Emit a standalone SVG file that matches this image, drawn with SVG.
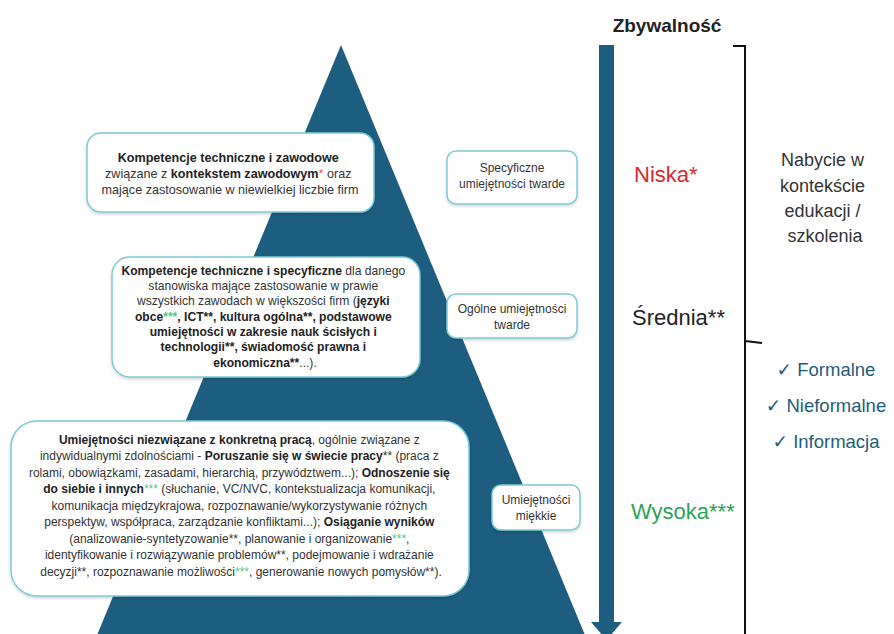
<svg xmlns="http://www.w3.org/2000/svg" width="894" height="634" viewBox="0 0 894 634">
<defs>
<filter id="sh" x="-10%" y="-10%" width="120%" height="130%">
<feDropShadow dx="0" dy="1.5" stdDeviation="1.5" flood-color="#000" flood-opacity="0.18"/>
</filter>
</defs>
<style>
text{font-family:"Liberation Sans","DejaVu Sans",sans-serif;fill:#333}
.box{fill:#fff;stroke:#7ecad6;stroke-width:1.5;filter:url(#sh)}
.b{font-weight:bold;fill:#222}
.g{fill:#4cc98a}
.r{fill:#e0575a}
.t{font-size:12px}
.t2{font-size:12.6px}
.t3{font-size:12.1px}
.lbl{font-size:12px;text-anchor:middle}
.big{font-size:22px}
.chk{font-size:18.5px;fill:#1f5c7a;text-anchor:middle}
</style>
<rect width="894" height="634" fill="#fff"/>

<g id="pyramid"><polygon points="341,45 587,640 95,640" fill="#1d5e80"/></g>

<g id="connectors">
<rect x="599" y="45" width="15" height="579" fill="#1d5e80"/>
<polygon points="591,622 622,622 606.5,640" fill="#1d5e80"/>
<path d="M733,46 H745 V640 M745,341 L762,343" fill="none" stroke="#111" stroke-width="2"/>
</g>

<g id="title"><text x="667" y="32" font-size="19" font-weight="bold" text-anchor="middle" style="fill:#222">Zbywalność</text></g>

<g id="box1">
<rect class="box" x="87" y="133" width="287" height="79" rx="14"/>
<text class="t2" text-anchor="middle">
<tspan x="230" y="162" class="b">Kompetencje techniczne i zawodowe</tspan>
<tspan x="230" y="178">związane z <tspan class="b">kontekstem zawodowym</tspan><tspan class="r">*</tspan> oraz</tspan>
<tspan x="230" y="194">mające zastosowanie w niewielkiej liczbie firm</tspan>
</text>
</g>

<g id="box2">
<rect class="box" x="112" y="257" width="308" height="120" rx="18"/>
<text class="t3" text-anchor="middle">
<tspan x="265" y="275"><tspan class="b">Kompetencje techniczne i specyficzne</tspan> dla danego</tspan>
<tspan x="265" y="290">stanowiska mające zastosowanie w prawie</tspan>
<tspan x="265" y="305">wszystkich zawodach w większości firm (<tspan class="b">języki</tspan></tspan>
<tspan x="265" y="321" class="b">obce<tspan class="g">***</tspan>, ICT**, kultura ogólna**, podstawowe</tspan>
<tspan x="265" y="336" class="b">umiejętności w zakresie nauk ścisłych i</tspan>
<tspan x="265" y="351" class="b">technologii**, świadomość prawna i</tspan>
<tspan x="265" y="367"><tspan class="b">ekonomiczna**</tspan>...).</tspan>
</text>
</g>

<g id="box3">
<rect class="box" x="11" y="421" width="458" height="175" rx="26"/>
<text class="t" text-anchor="middle">
<tspan x="241" y="444"><tspan class="b">Umiejętności niezwiązane z konkretną pracą</tspan>, ogólnie związane z</tspan>
<tspan x="241" y="460">indywidualnymi zdolnościami - <tspan class="b">Poruszanie się w świecie pracy</tspan>** (praca z</tspan>
<tspan x="241" y="477">rolami, obowiązkami, zasadami, hierarchią, przywództwem...); <tspan class="b">Odnoszenie się</tspan></tspan>
<tspan x="241" y="493"><tspan class="b">do siebie i innych</tspan><tspan class="g">***</tspan> (słuchanie, VC/NVC, kontekstualizacja komunikacji,</tspan>
<tspan x="241" y="510">komunikacja międzykrajowa, rozpoznawanie/wykorzystywanie różnych</tspan>
<tspan x="241" y="526">perspektyw, współpraca, zarządzanie konfliktami...); <tspan class="b">Osiąganie wyników</tspan></tspan>
<tspan x="241" y="543">(analizowanie-syntetyzowanie**, planowanie i organizowanie<tspan class="g">***</tspan>,</tspan>
<tspan x="241" y="559">identyfikowanie i rozwiązywanie problemów**, podejmowanie i wdrażanie</tspan>
<tspan x="241" y="576">decyzji**, rozpoznawanie możliwości<tspan class="g">***</tspan>, generowanie nowych pomysłów**).</tspan>
</text>
</g>

<g id="label1">
<rect class="box" x="447" y="151" width="130" height="53" rx="9"/>
<text class="lbl"><tspan x="512" y="172">Specyficzne</tspan><tspan x="512" y="188">umiejętności twarde</tspan></text>
</g>
<g id="label2">
<rect class="box" x="447" y="294" width="130" height="44" rx="9"/>
<text class="lbl"><tspan x="512" y="313">Ogólne umiejętności</tspan><tspan x="512" y="329">twarde</tspan></text>
</g>
<g id="label3">
<rect class="box" x="492" y="485" width="88" height="45" rx="9"/>
<text class="lbl"><tspan x="536" y="504">Umiejętności</tspan><tspan x="536" y="520">miękkie</tspan></text>
</g>

<g id="levels">
<text class="big" x="634" y="182" style="fill:#d42a30">Niska*</text>
<text class="big" x="632" y="325" style="fill:#222">Średnia**</text>
<text class="big" x="631" y="519" style="fill:#2aa357">Wysoka***</text>
</g>

<g id="acquisition">
<text font-size="18" text-anchor="middle">
<tspan x="825" y="166">Nabycie w</tspan>
<tspan x="825" y="192">kontekście</tspan>
<tspan x="825" y="217">edukacji /</tspan>
<tspan x="825" y="242">szkolenia</tspan>
</text>
</g>
<g id="forms">
<text class="chk" x="826" y="376">✓ Formalne</text>
<text class="chk" x="826" y="412">✓ Nieformalne</text>
<text class="chk" x="826" y="448">✓ Informacja</text>
</g>
</svg>
